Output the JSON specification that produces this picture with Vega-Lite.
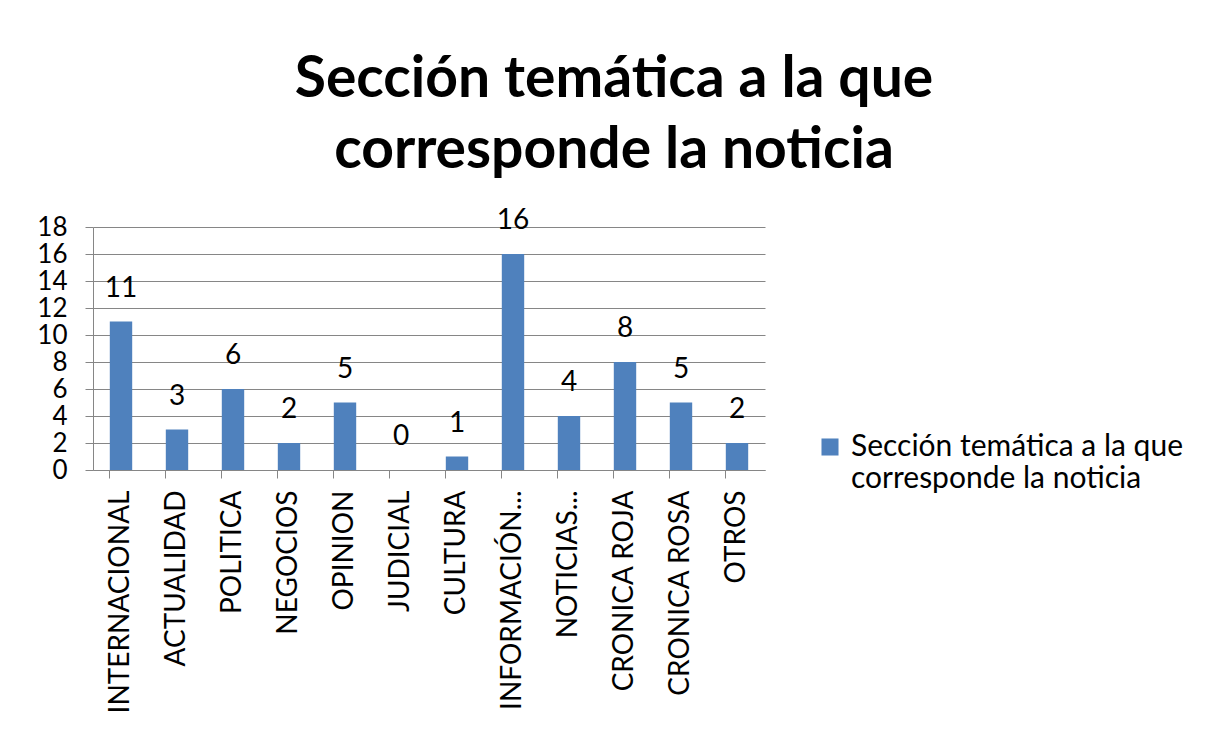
{
  "$schema": "https://vega.github.io/schema/vega-lite/v6.json",
  "autosize": {"type": "none"},
  "width": 672,
  "height": 243,
  "padding": {"left": 93, "top": 227, "right": 446, "bottom": 265},
  "background": "white",
  "config": {
    "font": "Lato",
    "view": {"stroke": null}
  },
  "title": {
    "text": ["Sección temática a la que", "corresponde la noticia"],
    "font": "Lato",
    "fontSize": 57,
    "fontWeight": "bold",
    "color": "#000000",
    "anchor": "middle",
    "frame": "group",
    "dx": 185,
    "offset": 27,
    "lineHeight": 71
  },
  "data": {
    "values": [
      {"seccion": "INTERNACIONAL", "valor": 11},
      {"seccion": "ACTUALIDAD", "valor": 3},
      {"seccion": "POLITICA", "valor": 6},
      {"seccion": "NEGOCIOS", "valor": 2},
      {"seccion": "OPINION", "valor": 5},
      {"seccion": "JUDICIAL", "valor": 0},
      {"seccion": "CULTURA", "valor": 1},
      {"seccion": "INFORMACIÓN...", "valor": 16},
      {"seccion": "NOTICIAS...", "valor": 4},
      {"seccion": "CRONICA ROJA", "valor": 8},
      {"seccion": "CRONICA ROSA", "valor": 5},
      {"seccion": "OTROS", "valor": 2}
    ]
  },
  "encoding": {
    "x": {
      "field": "seccion",
      "type": "nominal",
      "sort": null,
      "scale": {"paddingInner": 0.6, "paddingOuter": 0.3},
      "axis": {
        "title": null,
        "labelAngle": -90,
        "labelAlign": "right",
        "labelBaseline": "middle",
        "labelFont": "Lato",
        "labelFontSize": 28,
        "labelColor": "#000000",
        "labelPadding": 12,
        "labelLimit": 300,
        "bandPosition": 0,
        "tickSize": 8,
        "tickColor": "#868686",
        "domainColor": "#868686",
        "grid": false
      }
    },
    "y": {
      "field": "valor",
      "type": "quantitative",
      "scale": {"domain": [0, 18]},
      "axis": {
        "title": null,
        "values": [0, 2, 4, 6, 8, 10, 12, 14, 16, 18],
        "labelFont": "Lato",
        "labelFontSize": 26,
        "labelColor": "#000000",
        "labelPadding": 18,
        "labelOverlap": false,
        "tickSize": 8,
        "tickColor": "#868686",
        "domainColor": "#868686",
        "gridColor": "#868686",
        "grid": true
      }
    }
  },
  "layer": [
    {
      "mark": {"type": "bar", "color": "#4F81BD"},
      "encoding": {
        "color": {
          "datum": "Sección temática a la que corresponde la noticia",
          "scale": {"range": ["#4F81BD"]},
          "legend": {
            "title": null,
            "orient": "none",
            "legendX": 722,
            "legendY": 205,
            "symbolType": "square",
            "symbolSize": 290,
            "symbolStrokeWidth": 0,
            "labelFont": "Lato",
            "labelFontSize": 30,
            "labelColor": "#000000",
            "labelLimit": 400,
            "labelOffset": 6,
            "labelExpr": "['Sección temática a la que', 'corresponde la noticia']"
          }
        }
      }
    },
    {
      "mark": {
        "type": "text",
        "baseline": "alphabetic",
        "dy": -25,
        "font": "Lato",
        "fontSize": 28,
        "color": "#000000"
      },
      "encoding": {
        "text": {"field": "valor", "type": "quantitative"}
      }
    }
  ]
}
